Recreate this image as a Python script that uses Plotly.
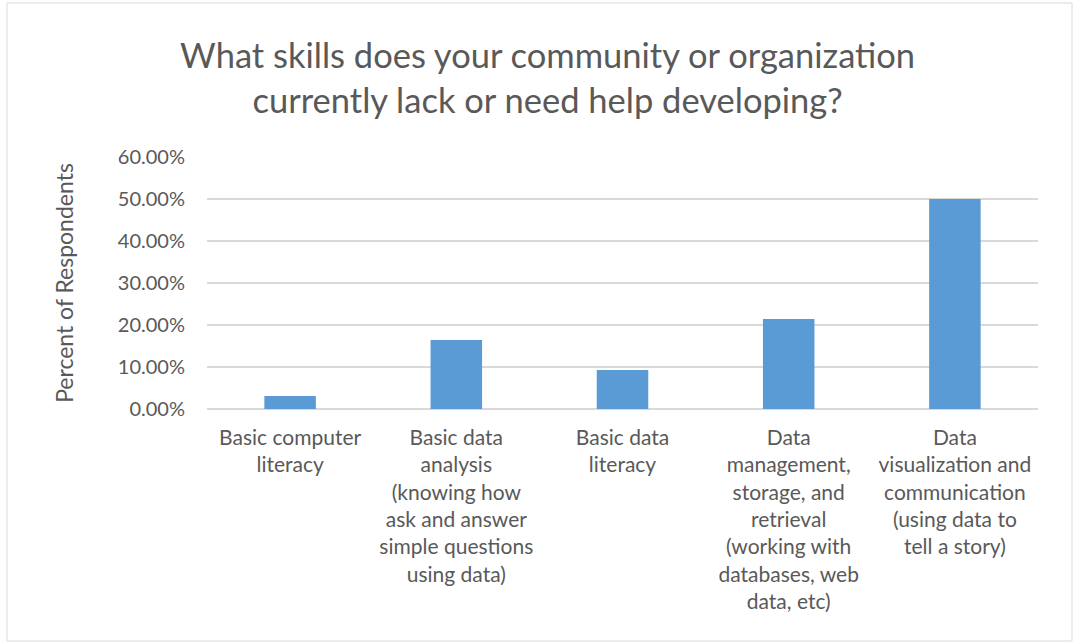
import plotly.graph_objects as go

categories = [
    "Basic computer<br>literacy",
    "Basic data<br>analysis<br>(knowing how<br>ask and answer<br>simple questions<br>using data)",
    "Basic data<br>literacy",
    "Data<br>management,<br>storage, and<br>retrieval<br>(working with<br>databases, web<br>data, etc)",
    "Data<br>visualization and<br>communication<br>(using data to<br>tell a story)",
]
values = [0.031, 0.164, 0.093, 0.214, 0.50]
tick_vals = [0, 0.1, 0.2, 0.3, 0.4, 0.5, 0.6]
tick_text = ["0.00%", "10.00%", "20.00%", "30.00%", "40.00%", "50.00%", "60.00%"]

fig = go.Figure(go.Bar(x=categories, y=values, marker=dict(color="#5b9bd5", line=dict(width=0)),
                       width=0.31))

fig.update_layout(
    width=1078, height=644,
    paper_bgcolor="white", plot_bgcolor="white",
    margin=dict(l=207, r=40, t=157, b=235),
    font=dict(family="Lato, Open Sans, sans-serif", color="#595959", size=18),
    title=dict(text="What skills does your community or organization<br>currently lack or need help developing?",
               x=0.508, xanchor="center", y=1 - 68/644, yanchor="middle",
               font=dict(size=34.5, color="#595959")),
    showlegend=False,
    bargap=0.69,
)
fig.update_yaxes(range=[0, 0.6], tickvals=tick_vals, ticktext=tick_text,
                 showgrid=True, gridcolor="#d9d9d9", gridwidth=1.5,
                 zeroline=True, zerolinecolor="#d9d9d9", zerolinewidth=1.5,
                 showline=False, ticks="", ticklabelstandoff=21,
                 tickfont=dict(size=20, color="#595959"),
                 title=dict(text="Percent of Respondents", font=dict(size=23, color="#595959"), standoff=37),
                 fixedrange=True)
fig.update_xaxes(showgrid=False, showline=False, ticks="", tickangle=0,
                 tickfont=dict(size=21, color="#595959"), ticklabelstandoff=14)

fig.add_shape(type="rect", xref="paper", yref="paper",
              x0=-207/831 + 7/831, x1=1 + 34/831, y0=-235/252 + 3/252, y1=1 + 154/252,
              line=dict(color="#d9d9d9", width=1), fillcolor="rgba(0,0,0,0)", layer="below")

fig.write_html("out.html")
